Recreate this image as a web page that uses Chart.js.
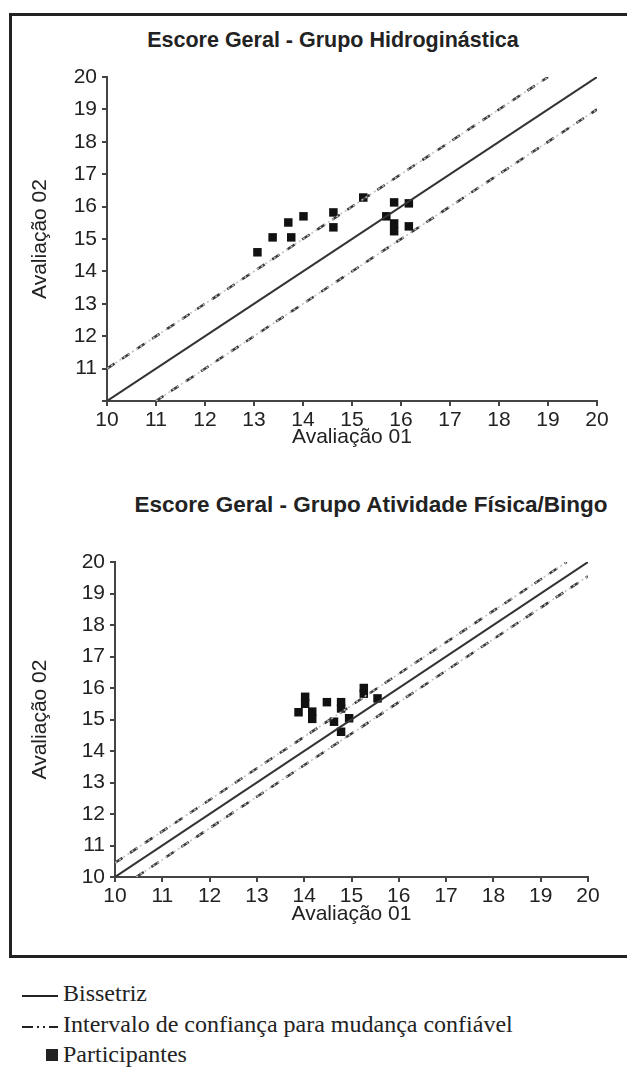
<!DOCTYPE html>
<html>
<head>
<meta charset="utf-8">
<script src="https://cdn.jsdelivr.net/npm/chart.js@4.4.1/dist/chart.umd.min.js"></script>
<style>
  body { margin: 0; width: 627px; height: 1068px; overflow: hidden; background: #fff; position: relative; font-family: "Liberation Sans", Arial, sans-serif; }
  #frame { position: absolute; left: 9px; top: 13px; width: 640px; height: 945px; border: 3px solid #222; box-sizing: border-box; }
  .box { position: absolute; left: 0; }
  .title { position: absolute; font-weight: bold; font-size: 21.5px; color: #222; white-space: nowrap; transform: translate(-50%, -50%); }
  .leg { position: absolute; font-family: "Liberation Serif", "Times New Roman", serif; font-size: 24px; color: #222; white-space: nowrap; }
</style>
</head>
<body>
<div id="frame"></div>
<div class="title" style="left:333px; top:40px;">Escore Geral - Grupo Hidroginástica</div>
<div class="title" style="left:371px; top:505px; font-size:22.5px;">Escore Geral - Grupo Atividade Física/Bingo</div>
<canvas id="hidro" class="box" style="top:0px;" width="627" height="470"></canvas>
<canvas id="bingo" class="box" style="top:480px;" width="627" height="470"></canvas>

<svg class="box" style="top:980px;" width="70" height="88">
  <line x1="22" y1="16" x2="58" y2="16" stroke="#222" stroke-width="2"/>
  <line x1="22" y1="47" x2="58" y2="47" stroke="#222" stroke-width="2" stroke-dasharray="11,4,2,4,2,4,11"/>
  <rect x="46" y="69" width="12" height="12" fill="#222"/>
</svg>
<div class="leg" style="left:63px; top:980px;">Bissetriz</div>
<div class="leg" style="left:63px; top:1011px;">Intervalo de confiança para mudança confiável</div>
<div class="leg" style="left:63px; top:1041px;">Participantes</div>

<script>
// tick values shared by both axes
const axisTicks = [10, 11, 12, 13, 14, 15, 16, 17, 18, 19, 20];

// Grupo Hidroginástica (Avaliação 01 x Avaliação 02)
const hidroX = [13.07, 13.38, 13.70, 13.76, 14.01, 14.62, 14.62, 15.23, 15.70, 15.86, 15.86, 15.86, 16.16, 16.16];
const hidroY = [14.59, 15.05, 15.51, 15.05, 15.70, 15.82, 15.36, 16.28, 15.70, 16.13, 15.48, 15.24, 16.10, 15.39];
const hidroUpperX = [10, 19];
const hidroUpperY = [11, 20];
const hidroLowerX = [11, 20];
const hidroLowerY = [10, 19];

// Grupo Atividade Física/Bingo
const bingoX = [13.88, 14.02, 14.02, 14.17, 14.17, 14.48, 14.78, 14.78, 14.63, 14.95, 14.78, 15.26, 15.26, 15.55];
const bingoY = [15.23, 15.72, 15.50, 15.25, 15.02, 15.55, 15.55, 15.35, 14.93, 15.04, 14.61, 16.00, 15.82, 15.67];
const bingoUpperX = [10, 19.55];
const bingoUpperY = [10.45, 20];
const bingoLowerX = [10.45, 20];
const bingoLowerY = [10, 19.55];

// bisector y = x
const bisectX = [10, 20];
const bisectY = [10, 20];

function toPoints(xs, ys) {
  return xs.map((x, i) => ({ x: x, y: ys[i] }));
}

function lineSet(xs, ys, color, width, dash) {
  return {
    type: "scatter",
    data: toPoints(xs, ys),
    showLine: true,
    borderColor: color,
    borderWidth: width,
    borderDash: dash,
    pointRadius: 0,
    fill: false
  };
}

// confidence band line: faint dotted base under dark dashes
function bandLines(xs, ys) {
  return [
    lineSet(xs, ys, "#bdbdbd", 1.5, [2, 3]),
    lineSet(xs, ys, "#3a3a3a", 2.5, [9, 9])
  ];
}

function makeChart(id, px, py, upX, upY, loX, loY, sizes) {
  const ctx = document.getElementById(id).getContext("2d");
  const font = { size: 21, family: "Liberation Sans" };
  return new Chart(ctx, {
    type: "scatter",
    data: {
      datasets: [
        lineSet(bisectX, bisectY, "#333", 2, []),
        ...bandLines(upX, upY),
        ...bandLines(loX, loY),
        {
          data: toPoints(px, py),
          pointStyle: "rect",
          pointRadius: 6,
          backgroundColor: "#111",
          borderWidth: 0
        }
      ]
    },
    options: {
      responsive: false,
      animation: false,
      layout: { padding: { top: sizes.top, left: 0, right: sizes.right, bottom: 0 } },
      plugins: { legend: { display: false }, tooltip: { enabled: false } },
      scales: {
        x: {
          type: "linear",
          min: 10,
          max: 20,
          afterBuildTicks: (scale) => { scale.ticks = axisTicks.map(v => ({ value: v })); },
          afterFit: (scale) => { scale.height = sizes.xHeight; },
          border: { color: "#444", width: 2 },
          grid: { drawOnChartArea: false, color: "#444", tickLength: 5, lineWidth: 2 },
          ticks: { color: "#222", font: font, padding: 2, maxRotation: 0 },
          title: { display: true, text: "Avaliação 01", color: "#222", font: font, padding: { top: 0, bottom: sizes.xTitlePad } }
        },
        y: {
          type: "linear",
          min: 10,
          max: 20,
          afterBuildTicks: (scale) => { scale.ticks = axisTicks.map(v => ({ value: v })); },
          afterFit: (scale) => { scale.width = sizes.yWidth; },
          border: { color: "#444", width: 2 },
          grid: { drawOnChartArea: false, color: "#444", tickLength: 5, lineWidth: 2 },
          ticks: {
            color: "#222",
            font: font,
            padding: 5,
            callback: (v) => (sizes.hideZero && v === 10 ? "" : v)
          },
          title: { display: true, text: "Avaliação 02", color: "#222", font: font, padding: { top: sizes.yTitlePad, bottom: 0 } }
        }
      }
    }
  });
}

makeChart("hidro", hidroX, hidroY, hidroUpperX, hidroUpperY, hidroLowerX, hidroLowerY,
  { top: 77, right: 30, xHeight: 69, yWidth: 107, xTitlePad: 20, yTitlePad: 28, hideZero: true });
makeChart("bingo", bingoX, bingoY, bingoUpperX, bingoUpperY, bingoLowerX, bingoLowerY,
  { top: 82, right: 39, xHeight: 73, yWidth: 115, xTitlePad: 23, yTitlePad: 28, hideZero: false });
</script>
</body>
</html>
